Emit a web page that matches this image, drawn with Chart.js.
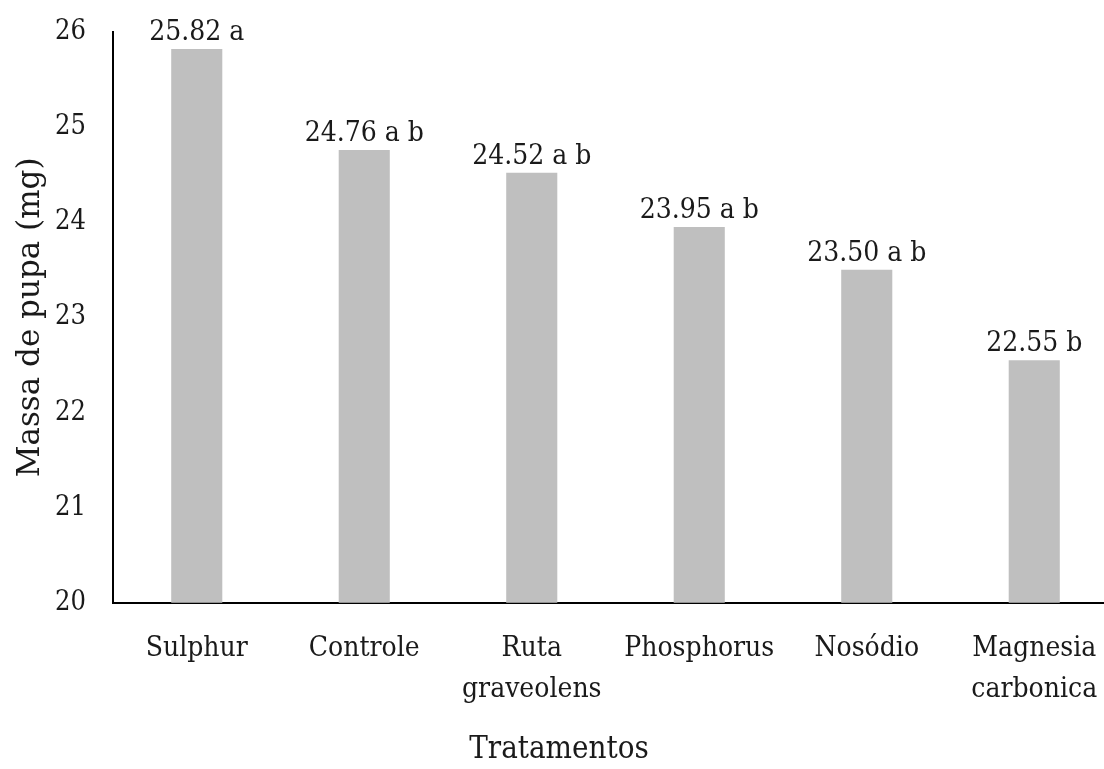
<!DOCTYPE html>
<html>
<head>
<meta charset="utf-8">
<script src="https://cdn.jsdelivr.net/npm/chart.js@4/dist/chart.umd.min.js"></script>
<style>
  html, body { margin: 0; padding: 0; background: #fff; overflow: hidden; }
  #wrap { width: 1120px; height: 769px; }
</style>
</head>
<body>
<div id="wrap"><canvas id="c" width="1120" height="769"></canvas></div>
<script>
// Pupal mass per treatment, with significance letters
const categories = [
  'Sulphur',
  'Controle',
  ['Ruta', 'graveolens'],
  'Phosphorus',
  'Nosódio',
  ['Magnesia', 'carbonica']
];
const pupaMass = [25.82, 24.76, 24.52, 23.95, 23.50, 22.55];
const letters = ['a', 'a b', 'a b', 'a b', 'a b', 'b'];
const yTicks = [20, 21, 22, 23, 24, 25, 26];

const FONT = '"DejaVu Serif Condensed", "DejaVu Serif", serif';
const FONT_WIDE = '"DejaVu Serif", serif';
const INK = '#1a1a1a';

// Writes "value letters" above each bar
const valueLabels = {
  id: 'valueLabels',
  afterDatasetsDraw(chart) {
    const ctx = chart.ctx;
    const meta = chart.getDatasetMeta(0);
    ctx.save();
    ctx.font = '28px ' + FONT;
    ctx.fillStyle = INK;
    ctx.textAlign = 'center';
    ctx.textBaseline = 'alphabetic';
    meta.data.forEach((bar, i) => {
      const v = chart.data.datasets[0].data[i];
      ctx.fillText(v.toFixed(2) + ' ' + letters[i], bar.x, bar.y - 9);
    });
    ctx.restore();
  }
};

new Chart(document.getElementById('c'), {
  type: 'bar',
  data: {
    labels: categories,
    datasets: [{
      data: pupaMass,
      backgroundColor: '#bfbfbf',
      borderWidth: 0,
      barPercentage: 0.305,
      categoryPercentage: 1.0
    }]
  },
  options: {
    responsive: false,
    animation: false,
    layout: { padding: { top: 32, right: 2, left: 0, bottom: 0 } },
    plugins: {
      legend: { display: false },
      tooltip: { enabled: false },
      title: {
        display: true,
        position: 'bottom',
        text: 'Tratamentos',
        color: INK,
        font: { family: FONT, size: 31, weight: 'normal', lineHeight: 1.2 },
        padding: { top: 8, bottom: 0 }
      }
    },
    scales: {
      x: {
        grid: { display: false, drawTicks: false },
        border: { display: true, color: '#000', width: 2 },
        ticks: {
          color: INK,
          font: { family: FONT, size: 28, lineHeight: 1.45 },
          padding: 26,
          maxRotation: 0,
          autoSkip: false
        },
        afterFit(scale) {
          scale.height = 121;
          scale.paddingLeft = 0;
          scale.paddingRight = 0;
        }
      },
      y: {
        min: 20,
        max: 26,
        afterBuildTicks(scale) { scale.ticks = yTicks.map(v => ({ value: v })); },
        grid: { display: false, drawTicks: false },
        border: { display: true, color: '#000', width: 2 },
        ticks: {
          color: INK,
          font: { family: FONT, size: 27 },
          padding: 27
        },
        title: {
          display: true,
          text: 'Massa de pupa (mg)',
          color: INK,
          font: { family: FONT_WIDE, size: 31, lineHeight: 1.2 },
          padding: { top: 12, bottom: 0 }
        },
        afterFit(scale) {
          scale.width = 113;
          scale.paddingTop = 0;
          scale.paddingBottom = 0;
        }
      }
    }
  },
  plugins: [valueLabels]
});
</script>
</body>
</html>
